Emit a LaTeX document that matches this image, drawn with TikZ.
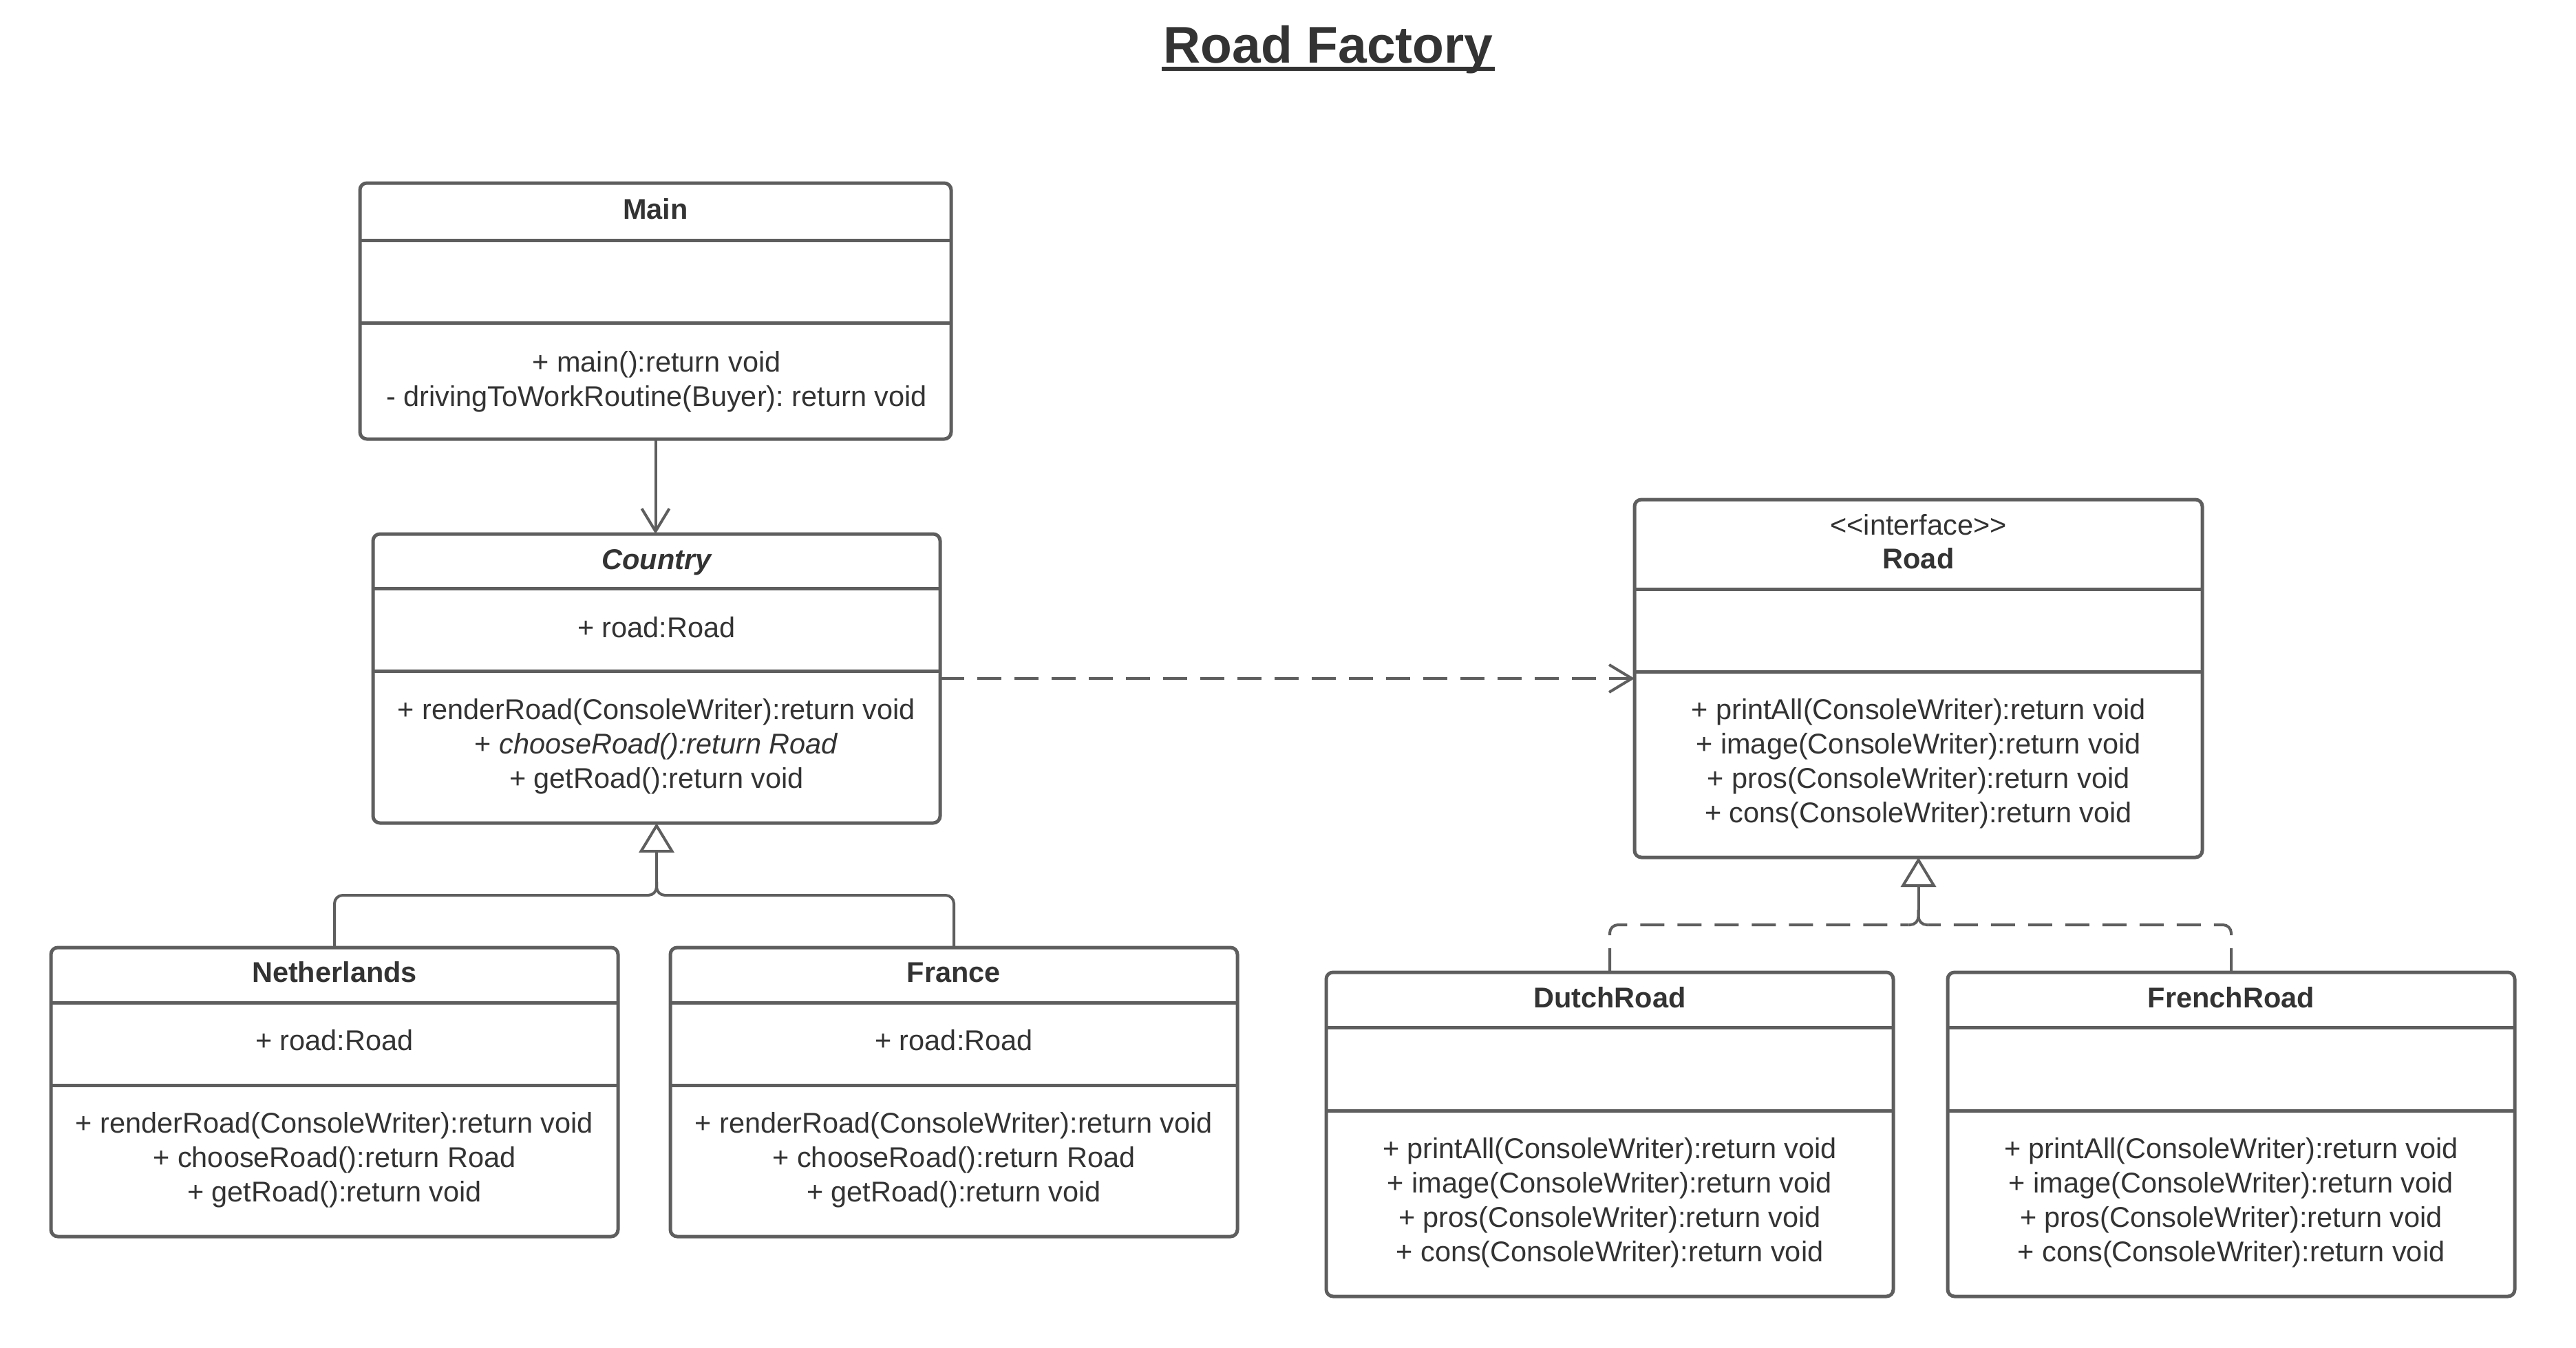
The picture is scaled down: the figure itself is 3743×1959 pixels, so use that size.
\documentclass[tikz,border=0pt]{standalone}
\usepackage{fontspec}
\setmainfont{Liberation Sans}
\usetikzlibrary{arrows.meta,fit,calc}
\definecolor{lc}{HTML}{5E5E5E}
\definecolor{tc}{HTML}{333333}
\frenchspacing
\newcommand\bodyfnt{\fontsize{20.75pt}{25pt}\selectfont}
\newcommand\titlefnt{\fontsize{37.5pt}{45pt}\selectfont\bfseries}
\newcommand\umlbox[7]{%
  \node[classbox, fit={(#2,#3) (#4,#5)}] (#1) {};
  \draw[divline] (#2,#6) -- (#4,#6);
  \draw[divline] (#2,#7) -- (#4,#7);
}
\begin{document}
\begin{tikzpicture}[x=0.5pt,y=-0.5pt,
  classbox/.style={draw=lc, line width=2.5pt, rounded corners=5pt, inner sep=0pt, outer sep=0pt},
  divline/.style={draw=lc, line width=2.5pt},
  txt/.style={text=tc, font=\bodyfnt, align=center, inner sep=0pt},
  cname/.style={text=tc, font=\bodyfnt\bfseries, inner sep=0pt, anchor=base},
  attr/.style={text=tc, font=\bodyfnt, inner sep=0pt, anchor=base},
  conn/.style={draw=lc, line width=2pt},
  dashpat/.style={dash pattern=on 17.5pt off 9.5pt},
  barb/.style={-{Straight Barb[length=16.5pt,width=20pt]}},
  gen/.style={-{Triangle[open,length=21.5pt,width=25.5pt,fill=white]}}
]
\fill[white] (0,0) rectangle (3743,1959);
\useasboundingbox (0,0) rectangle (3743,1959);

% title
\node[text=tc, font=\titlefnt, inner sep=0pt, anchor=base] (title) at (1930,92) {Road Factory};
\draw[tc, line width=3pt] ($(title.base west)+(-2,8)$) -- ($(title.base east)+(2,8)$);

% boxes
\umlbox{main}{523}{266}{1382}{638}{349}{469}
\umlbox{country}{542}{776}{1366}{1196}{855}{975}
\umlbox{road}{2375}{726}{3200}{1246}{856}{976}
\umlbox{neth}{74}{1377}{898}{1797}{1457}{1577}
\umlbox{france}{974}{1377}{1798}{1797}{1457}{1577}
\umlbox{dutch}{1927}{1413}{2751}{1884}{1493}{1614}
\umlbox{french}{2830}{1413}{3654}{1884}{1493}{1614}

% Main
\node[cname] (mainN) at (952.5,318) {Main};
\node[txt] (mainM) at (954,555) {+ main():return void\\- drivingToWorkRoutine(Buyer): return void};

% Country
\node[cname, font=\bodyfnt\bfseries\itshape] (countryN) at (954,827) {Country};
\node[attr] (countryA) at (954,926) {+ road:Road};
\node[txt] (countryM) at (954,1085) {+ renderRoad(ConsoleWriter):return void\\+ \textit{chooseRoad():return Road}\\+ getRoad():return void};

% Road
\node[attr] (roadS) at (2787.5,777) {<{}<interface>{}>};
\node[cname] (roadN) at (2787.5,826) {Road};
\node[txt] (roadM) at (2787.5,1110) {+ printAll(ConsoleWriter):return void\\+ image(ConsoleWriter):return void\\+ pros(ConsoleWriter):return void\\+ cons(ConsoleWriter):return void};

% Netherlands
\node[cname] (nethN) at (486,1427) {Netherlands};
\node[attr] (nethA) at (486,1526) {+ road:Road};
\node[txt] (nethM) at (486,1686) {+ renderRoad(ConsoleWriter):return void\\+ chooseRoad():return Road\\+ getRoad():return void};

% France
\node[cname] (franceN) at (1386,1427) {France};
\node[attr] (franceA) at (1386,1526) {+ road:Road};
\node[txt] (franceM) at (1386,1686) {+ renderRoad(ConsoleWriter):return void\\+ chooseRoad():return Road\\+ getRoad():return void};

% DutchRoad
\node[cname] (dutchN) at (2339,1464) {DutchRoad};
\node[txt] (dutchM) at (2339,1748) {+ printAll(ConsoleWriter):return void\\+ image(ConsoleWriter):return void\\+ pros(ConsoleWriter):return void\\+ cons(ConsoleWriter):return void};

% FrenchRoad
\node[cname] (frenchN) at (3242,1464) {FrenchRoad};
\node[txt] (frenchM) at (3242,1748) {+ printAll(ConsoleWriter):return void\\+ image(ConsoleWriter):return void\\+ pros(ConsoleWriter):return void\\+ cons(ConsoleWriter):return void};

% connectors
\draw[conn, barb] (main.south) -- (main.south |- country.north);
\draw[conn, dashpat, barb] (country.east) -- (road.west);

\coordinate (j1) at (954,1301);
\draw[conn, rounded corners=6pt] (neth.north) |- (j1) -- ++(0,-20);
\draw[conn, rounded corners=6pt] (france.north) |- (j1) -- ++(0,-20);
\draw[conn, gen] ($(j1)+(0,-19)$) -- (country.south);

\coordinate (j2) at (2787.5,1344);
\draw[conn, dashpat, rounded corners=6pt] (dutch.north) |- ($(j2)+(-14,0)$);
\draw[conn, dashpat, rounded corners=6pt] (french.north) |- ($(j2)+(14,0)$);
\draw[conn, rounded corners=6pt] ($(j2)+(-14,0)$) -| ($(j2)+(0,-22)$);
\draw[conn, rounded corners=6pt] ($(j2)+(14,0)$) -| ($(j2)+(0,-22)$);
\draw[conn, gen] ($(j2)+(0,-21)$) -- (road.south);
\end{tikzpicture}
\end{document}
